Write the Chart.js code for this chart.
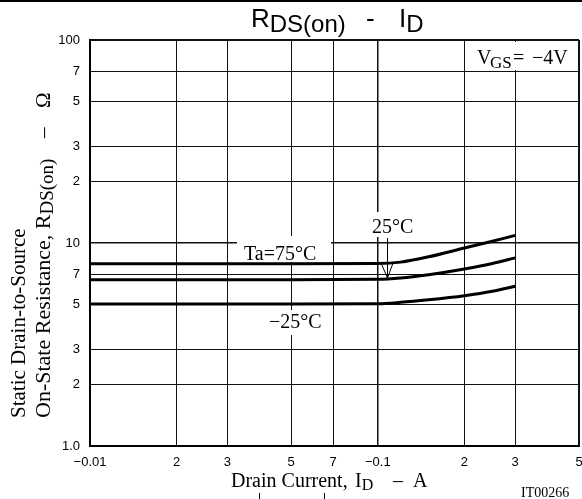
<!DOCTYPE html>
<html><head><meta charset="utf-8">
<script src="https://cdn.jsdelivr.net/npm/chart.js@4/dist/chart.umd.min.js"></script>
<style>html,body{margin:0;padding:0;background:#fff}#wrap{width:582px;height:499px;position:relative}</style>
</head><body><div id="wrap"><canvas id="c" width="582" height="499"></canvas></div>
<script>
// ---- data ----
const xTickValues = [0.01, 0.02, 0.03, 0.05, 0.07, 0.1, 0.2, 0.3, 0.5];
const xTickLabels = ['−0.01', '2', '3', '5', '7', '−0.1', '2', '3', '5'];
const yTickValues = [1, 2, 3, 5, 7, 10, 20, 30, 50, 70, 100];
const yTickLabels = ['1.0', '2', '3', '5', '7', '10', '2', '3', '5', '7', '100'];
const drainCurrent = [0.01, 0.05, 0.1, 0.12, 0.15, 0.2, 0.25, 0.3];
const rTa75 = [7.9, 7.9, 7.92, 8.05, 8.55, 9.45, 10.2, 10.9];
const rTa25 = [6.6, 6.6, 6.62, 6.72, 6.98, 7.45, 7.92, 8.45];
const rTaM25 = [5.0, 5.0, 5.02, 5.1, 5.25, 5.5, 5.78, 6.12];

const toPts = (xs, ys) => xs.map((x, i) => ({x: x, y: ys[i]}));
const SERIF = '"Liberation Serif", "Times New Roman", serif';
const SANS = '"Liberation Sans", Arial, sans-serif';

// parts: {t, font, dy, at (absolute offset from origin, optional)}
function drawParts(c, x, y, parts) {
  let px = x;
  for (const p of parts) {
    c.font = p.font;
    if (p.at !== undefined) px = x + p.at;
    c.fillText(p.t, px, y + (p.dy || 0));
    px += c.measureText(p.t).width;
  }
}
function rotParts(c, x, y, parts) {
  c.save(); c.translate(x, y); c.rotate(-Math.PI / 2);
  drawParts(c, 0, 0, parts);
  c.restore();
}

const deco = {
  id: 'deco',
  beforeDraw(chart) {
    const c = chart.ctx; c.save(); c.fillStyle = '#fff';
    c.fillRect(0, 0, chart.width, chart.height); c.restore();
  },
  beforeDatasetsDraw(chart) {
    const c = chart.ctx;
    c.save();
    c.fillStyle = '#fff';
    c.fillRect(237, 236, 94, 26);
    c.fillRect(369, 212, 52, 25);
    c.fillRect(265, 310, 66, 25);
    c.fillRect(469, 42, 108, 28);
    c.fillStyle = '#000';
    c.textBaseline = 'alphabetic';
    c.textAlign = 'left';
    c.font = '20px ' + SERIF;
    c.fillText('Ta=75°C', 244, 260);
    c.fillText('25°C', 372, 233);
    c.fillText('−25°C', 269, 328);
    drawParts(c, 477, 64, [
      {t: 'V', font: '20px ' + SERIF},
      {t: 'GS', font: '17px ' + SERIF, dy: 4, at: 13},
      {t: '=', font: '20px ' + SERIF, at: 36},
      {t: '−4V', font: '20px ' + SERIF, at: 55}
    ]);
    c.restore();
  },
  afterDraw(chart) {
    const c = chart.ctx;
    c.save();
    c.fillStyle = '#000'; c.strokeStyle = '#000';
    c.textBaseline = 'alphabetic'; c.textAlign = 'left';
    // arrow for 25°C
    c.lineWidth = 1;
    c.beginPath();
    c.moveTo(387.5, 238); c.lineTo(387.5, 278);
    c.moveTo(381, 263); c.lineTo(387.5, 278); c.lineTo(393, 263);
    c.stroke();
    // title
    drawParts(c, 251, 27, [
      {t: 'R', font: '26px ' + SANS},
      {t: 'DS(on)', font: '24px ' + SANS, dy: 5}
    ]);
    c.font = '26px ' + SANS; c.fillText('-', 366, 27);
    drawParts(c, 399, 27, [
      {t: 'I', font: '26px ' + SANS},
      {t: 'D', font: '24px ' + SANS, dy: 5}
    ]);
    // x title
    drawParts(c, 231, 487, [
      {t: 'Drain Current,', font: '20px ' + SERIF},
      {t: 'I', font: '20px ' + SERIF, at: 124},
      {t: 'D', font: '16px ' + SERIF, dy: 3},
      {t: '–', font: '20px ' + SERIF, at: 162},
      {t: 'A', font: '20px ' + SERIF, at: 182}
    ]);
    c.font = '14px ' + SERIF; c.fillText('IT00266', 521, 497);
    // y title
    rotParts(c, 25, 418, [{t: 'Static Drain-to-Source', font: '21px ' + SERIF}]);
    rotParts(c, 50, 418, [
      {t: 'On-State Resistance, R', font: '22px ' + SERIF},
      {t: 'DS(on)', font: '19px ' + SERIF, dy: 3},
      {t: '–', font: '21px ' + SERIF, at: 280},
      {t: 'Ω', font: '21px ' + SERIF, at: 310}
    ]);
    // page rule and marks
    c.fillRect(0, 0, 582, 2);
    c.fillRect(259, 493, 1, 6);
    c.fillRect(324, 493, 1, 6);
    c.restore();
  }
};

const gridW = (ctx, special) => {
  const v = ctx.tick && ctx.tick.value;
  if (ctx.index === 0 || v === special[1]) return 2;
  if (v === special[0]) return 1.5;
  return 1;
};

new Chart(document.getElementById('c'), {
  type: 'line',
  data: {
    datasets: [
      {label: 'Ta=75°C', data: toPts(drainCurrent, rTa75)},
      {label: '25°C', data: toPts(drainCurrent, rTa25)},
      {label: '−25°C', data: toPts(drainCurrent, rTaM25)}
    ].map(d => Object.assign(d, {
      borderColor: '#000', borderWidth: 3, pointRadius: 0,
      cubicInterpolationMode: 'monotone', fill: false
    }))
  },
  options: {
    responsive: false, animation: false, devicePixelRatio: 1,
    layout: {padding: {top: 40, right: 3, left: 0, bottom: 0}},
    plugins: {legend: {display: false}, tooltip: {enabled: false}, title: {display: false}},
    scales: {
      x: {
        type: 'logarithmic', min: 0.01, max: 0.5,
        afterBuildTicks: a => { a.ticks = xTickValues.map(v => ({value: v})); },
        afterFit: a => { a.height = 53; a.paddingLeft = 0; a.paddingRight = 0; },
        ticks: {
          autoSkip: false, maxRotation: 0, padding: 9, color: '#000',
          font: {family: SANS, size: 13},
          callback: (v, i) => xTickLabels[i]
        },
        grid: {
          color: '#111', drawTicks: false,
          lineWidth: ctx => gridW(ctx, [0.1, 0.5])
        },
        border: {display: true, color: '#000', width: 2}
      },
      y: {
        type: 'logarithmic', min: 1, max: 100,
        afterBuildTicks: a => { a.ticks = yTickValues.map(v => ({value: v})); },
        afterFit: a => { a.width = 90; a.paddingTop = 0; a.paddingBottom = 0; },
        ticks: {
          autoSkip: false, padding: 10, color: '#000',
          font: {family: SANS, size: 13},
          callback: (v, i) => yTickLabels[i]
        },
        grid: {
          color: '#111', drawTicks: false,
          lineWidth: ctx => gridW(ctx, [10, 100])
        },
        border: {display: true, color: '#000', width: 2}
      }
    }
  },
  plugins: [deco]
});
</script>
</body></html>
